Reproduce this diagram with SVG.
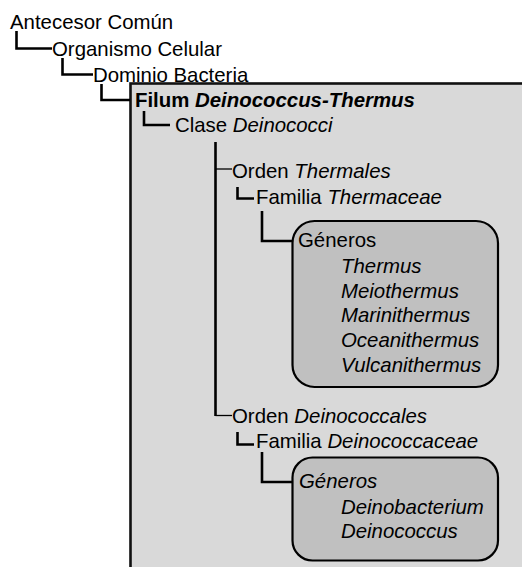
<svg xmlns="http://www.w3.org/2000/svg" width="522" height="567" viewBox="0 0 522 567">
<style>
text{font-family:"Liberation Sans",Arial,Helvetica,sans-serif;font-size:20.4px;fill:#000}
.i{font-style:italic}
.b{font-weight:bold}
.c{fill:none;stroke:#000;stroke-width:2.6;stroke-linecap:butt;stroke-linejoin:miter}
.t{fill:none;stroke:#000;stroke-width:1.3}
.big{fill:#d9d9d9;stroke:#111;stroke-width:2.6}
.gen{fill:#c0c0c0;stroke:#000;stroke-width:2.2}
</style>
<rect width="522" height="567" fill="#fff"/>
<g id="filum-box"><rect class="big" x="130.5" y="83.5" width="500" height="600"/></g>
<g id="connectors">
<path class="c" d="M16.5,31 V48.5 H52"/>
<path class="c" d="M62.5,58 V74.5 H93"/>
<path class="c" d="M101.5,84 V100 H130"/>
<path class="c" d="M144,111 V125 H170"/>
<path class="c" d="M215.5,142 V416"/>
<path class="t" d="M215.5,169 H232"/>
<path class="t" d="M215.5,415.5 H232"/>
<path class="c" d="M237.5,187 V198.5 H254"/>
<path class="c" d="M237.5,432 V444.5 H254"/>
<path class="c" d="M262,211 V241 H293"/>
<path class="c" d="M262,452 V482 H293"/>
</g>
<g id="n-antecesor"><text x="10" y="29">Antecesor Común</text></g>
<g id="n-organismo"><text x="52" y="55.5">Organismo Celular</text></g>
<g id="n-dominio"><text x="93" y="81.5">Dominio Bacteria</text></g>
<g id="n-filum"><text x="135" y="106.5" class="b">Filum <tspan class="i">Deinococcus-Thermus</tspan></text></g>
<g id="n-clase"><text x="175" y="132">Clase <tspan class="i">Deinococci</tspan></text></g>
<g id="n-thermales"><text x="232" y="178">Orden <tspan class="i">Thermales</tspan></text></g>
<g id="n-thermaceae"><text x="256" y="203.5">Familia <tspan class="i">Thermaceae</tspan></text></g>
<g id="n-generos1">
<rect class="gen" x="292.5" y="221" width="205.5" height="166" rx="22" ry="22"/>
<text x="298" y="247">Géneros</text>
<text class="i" x="341" y="273">Thermus</text>
<text class="i" x="341" y="297.5">Meiothermus</text>
<text class="i" x="341" y="322">Marinithermus</text>
<text class="i" x="341" y="347">Oceanithermus</text>
<text class="i" x="341" y="371.5">Vulcanithermus</text>
</g>
<g id="n-deinococcales"><text x="232" y="423">Orden <tspan class="i">Deinococcales</tspan></text></g>
<g id="n-deinococcaceae"><text x="256" y="448">Familia <tspan class="i">Deinococcaceae</tspan></text></g>
<g id="n-generos2">
<rect class="gen" x="292.5" y="457.5" width="205.5" height="103" rx="20" ry="20"/>
<text class="i" x="299" y="488">Géneros</text>
<text class="i" x="341" y="513.5">Deinobacterium</text>
<text class="i" x="341" y="538">Deinococcus</text>
</g>
</svg>
